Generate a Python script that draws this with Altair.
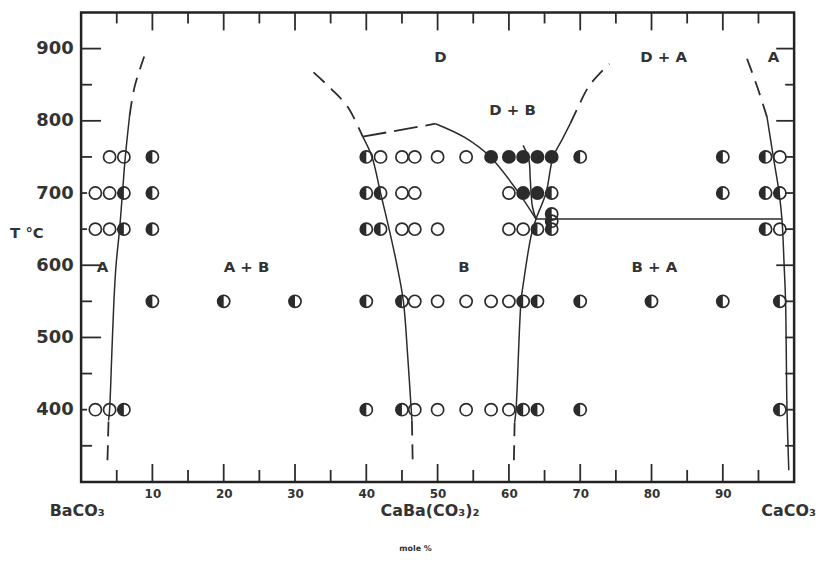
import altair as alt
import pandas as pd

# ---------------- data ----------------
# experimental points: mole % CaCO3, temperature, kind (o=open, h=half, f=filled)
row750_x = [4, 6, 10, 40, 42, 45, 46.8, 50, 54, 57.5, 60, 62, 64, 66, 70, 90, 96, 98]
row750_k = ["o", "o", "h", "h", "o", "o", "o", "o", "o", "f", "f", "f", "f", "f", "h", "h", "h", "o"]
row700_x = [2, 4, 6, 10, 40, 42, 45, 46.8, 60, 62, 64, 66, 90, 96, 98]
row700_k = ["o", "o", "h", "h", "h", "h", "o", "o", "o", "f", "f", "h", "h", "h", "h"]
row650_x = [2, 4, 6, 10, 40, 42, 45, 46.8, 50, 60, 62, 64, 66, 96, 98]
row650_k = ["o", "o", "h", "h", "h", "h", "o", "o", "o", "o", "o", "h", "h", "h", "o"]
extra_x = [66, 66]
extra_T = [671, 661]
extra_k = ["h", "h"]
row550_x = [10, 20, 30, 40, 45, 46.8, 50, 54, 57.5, 60, 62, 64, 70, 80, 90, 98]
row550_k = ["h", "h", "h", "h", "h", "o", "o", "o", "o", "o", "h", "h", "h", "h", "h", "h"]
row400_x = [2, 4, 6, 40, 45, 46.8, 50, 54, 57.5, 60, 62, 64, 70, 98]
row400_k = ["o", "o", "h", "h", "h", "o", "o", "o", "o", "o", "h", "h", "h", "h"]

# phase boundaries: (x, T) lists
bound_BaCO3_dash_low = [(3.7, 330), (3.85, 385)]
bound_BaCO3_solid = [(3.85, 385), (4.0, 400), (4.3, 475), (4.6, 550), (4.9, 600), (5.4, 650), (5.8, 700), (6.2, 750), (6.8, 807)]
bound_BaCO3_dash_high = [(6.8, 807), (7.5, 847), (8.85, 889)]

bound_B_left_dash_high = [(32.6, 867), (35.1, 844), (37.4, 819), (39.5, 778)]
bound_B_left_solid = [(39.5, 778), (40.8, 750), (42.0, 700), (43.2, 650), (44.3, 600), (45.2, 550), (45.8, 475), (46.3, 400), (46.4, 385)]
bound_B_left_dash_low = [(46.4, 385), (46.5, 330)]

bound_DB_dash = [(39.5, 778), (49.7, 796)]
bound_DB_solid = [(49.7, 796), (53.8, 777), (57.4, 750), (61.1, 704), (63.8, 664)]

bound_inner = [(62.0, 766), (62.8, 746), (63.0, 718), (63.3, 681), (63.8, 664)]

eutectoid = [(63.8, 664), (98.3, 664)]

bound_B_right_dash_low = [(60.7, 330), (60.8, 382)]
bound_B_right_solid = [(60.8, 382), (61.0, 400), (61.7, 550), (62.1, 580), (63.1, 640), (63.8, 664), (65.2, 700), (66.2, 750), (67.4, 773), (68.6, 796)]
bound_B_right_dash_high = [(68.6, 796), (69.7, 819), (71.3, 849), (74.1, 879)]

bound_CaCO3_dash = [(93.4, 886), (94.9, 845), (96.2, 805)]
bound_CaCO3_solid = [(96.2, 805), (97.1, 749), (97.9, 700), (98.3, 663), (98.6, 600), (98.8, 550), (99.0, 400), (99.25, 316)]

# region labels
region_labels = ["A", "A + B", "D", "D + B", "D + A", "A", "B", "B + A"]
region_x = [3.0, 23.2, 50.4, 60.5, 81.7, 97.1, 53.7, 80.4]
region_T = [597, 597, 888, 815, 888, 888, 597, 597]

# compound labels under the axis
compound_labels = ["BaCO\u2083", "CaBa(CO\u2083)\u2082", "CaCO\u2083"]
compound_x = [-4.4, 42.0, 95.4]
compound_T = [259, 259, 259]

x_tick_labels = [10, 20, 30, 40, 50, 60, 70, 80, 90]
y_tick_labels = [400, 500, 600, 700, 800, 900]

x_major_ticks = [10, 20, 30, 40, 50, 60, 70, 80, 90]
x_minor_ticks = [5, 15, 25, 35, 45, 55, 65, 75, 85, 95]
left_long_ticks = [500, 600, 800, 900]
left_mid_ticks = [350, 450, 550, 750, 850]
left_short_ticks = [400, 650, 700]
right_long_ticks = [600, 800, 900]
right_short_ticks = [350, 400, 450, 500, 550, 650, 700, 750, 850]

# ---------------- build tables ----------------
pts = []
for xs, ks, T in [(row750_x, row750_k, 750), (row700_x, row700_k, 700),
                  (row650_x, row650_k, 650), (row550_x, row550_k, 550),
                  (row400_x, row400_k, 400)]:
    for x, k in zip(xs, ks):
        pts.append({"x": x, "T": T, "k": k})
for x, T, k in zip(extra_x, extra_T, extra_k):
    pts.append({"x": x, "T": T, "k": k})
pts = pd.DataFrame(pts)

def seg_table(segs):
    rows = []
    for s, seg in enumerate(segs):
        for i, (x, T) in enumerate(seg):
            rows.append({"seg": s, "i": i, "x": x, "T": T})
    return pd.DataFrame(rows)

solid_df = seg_table([bound_BaCO3_solid, bound_B_left_solid, bound_DB_solid,
                      bound_inner, eutectoid, bound_B_right_solid, bound_CaCO3_solid])
dash_df = seg_table([bound_BaCO3_dash_low, bound_BaCO3_dash_high, bound_B_left_dash_high,
                     bound_B_left_dash_low, bound_B_right_dash_low, bound_B_right_dash_high,
                     bound_CaCO3_dash])
dash_db_df = seg_table([bound_DB_dash])

regions = pd.DataFrame({"label": region_labels, "x": region_x, "T": region_T})
compounds = pd.DataFrame({"label": compound_labels, "x": compound_x, "T": compound_T})
other_text = pd.DataFrame({"label": ["T \u00b0C", "mole %"], "x": [-7.6, 46.9], "T": [645, 207],
                           "size": ["big", "small"]})

W, H = 717, 472
INK = "#2b2b2b"
FONT = "DejaVu Sans"

xscale = alt.Scale(domain=[0, 100], nice=False, zero=False)
yscale = alt.Scale(domain=[300, 950], nice=False, zero=False)
xaxis = alt.Axis(values=x_tick_labels, ticks=False, tickSize=0, domain=False, grid=False,
                 labelFontSize=12, labelFontWeight="bold", labelFont=FONT, labelColor="#333",
                 labelPadding=7, title=None)
yaxis = alt.Axis(values=y_tick_labels, ticks=False, tickSize=0, domain=False, grid=False,
                 labelFontSize=18, labelFontWeight="bold", labelFont=FONT, labelColor="#333",
                 labelPadding=8, title=None)

def X(f="x"):
    return alt.X(f"{f}:Q", scale=xscale, axis=xaxis)

def Y(f="T"):
    return alt.Y(f"{f}:Q", scale=yscale, axis=yaxis)

CIRCLE = "M-1,0A1,1,0,1,0,1,0A1,1,0,1,0,-1,0Z"
LEFT_HALF = "M0,-1A1,1,0,0,0,0,1Z"
SZ = 150

lines_solid = alt.Chart(solid_df).mark_line(color=INK, strokeWidth=1.5, interpolate="catmull-rom").encode(
    x=X(), y=Y(), detail="seg:N", order="i:Q")
lines_dash = alt.Chart(dash_df).mark_line(color=INK, strokeWidth=1.8, strokeDash=[15, 9],
                                          interpolate="catmull-rom").encode(
    x=X(), y=Y(), detail="seg:N", order="i:Q")
lines_dash_db = alt.Chart(dash_db_df).mark_line(color=INK, strokeWidth=1.8, strokeDash=[24, 8]).encode(
    x=X(), y=Y(), detail="seg:N", order="i:Q")

open_pts = alt.Chart(pts).mark_point(shape=CIRCLE, filled=False, stroke=INK, strokeWidth=1.7,
                                     size=SZ, opacity=1).encode(x=X(), y=Y())
half_pts = alt.Chart(pts).transform_filter(alt.datum.k == "h").mark_point(
    shape=LEFT_HALF, filled=True, fill=INK, strokeWidth=0, size=SZ, opacity=1).encode(x=X(), y=Y())
full_pts = alt.Chart(pts).transform_filter(alt.datum.k == "f").mark_point(
    shape=CIRCLE, filled=True, fill=INK, strokeWidth=0, size=SZ, opacity=1).encode(x=X(), y=Y())

region_text = alt.Chart(regions).mark_text(font=FONT, fontSize=15, fontWeight="bold", color="#333",
                                           baseline="middle", align="center").encode(
    x=X(), y=Y(), text="label:N")
compound_text = alt.Chart(compounds).mark_text(font=FONT, fontSize=16, fontWeight="bold", color="#333",
                                               baseline="middle", align="left").encode(
    x=X(), y=Y(), text="label:N")
t_label = alt.Chart(other_text).transform_filter(alt.datum.size == "big").mark_text(
    font=FONT, fontSize=15, fontWeight="bold", color="#333", baseline="middle", align="center").encode(
    x=X(), y=Y(), text="label:N")
mole_label = alt.Chart(other_text).transform_filter(alt.datum.size == "small").mark_text(
    font=FONT, fontSize=8, fontWeight="bold", color="#333", baseline="middle", align="center").encode(
    x=X(), y=Y(), text="label:N")

def vticks(vals, top, length):
    df = pd.DataFrame({"v": vals})
    if top:
        return alt.Chart(df).mark_rule(color=INK, strokeWidth=1.8).encode(
            x=X("v"), y=alt.value(0), y2=alt.value(length))
    return alt.Chart(df).mark_rule(color=INK, strokeWidth=1.8).encode(
        x=X("v"), y=alt.value(H), y2=alt.value(H - length))

def hticks(vals, left, length):
    df = pd.DataFrame({"v": vals})
    if left:
        return alt.Chart(df).mark_rule(color=INK, strokeWidth=1.8).encode(
            y=Y("v"), x=alt.value(0), x2=alt.value(length))
    return alt.Chart(df).mark_rule(color=INK, strokeWidth=1.8).encode(
        y=Y("v"), x=alt.value(W), x2=alt.value(W - length))

ticks = [
    vticks(x_major_ticks, True, 18), vticks(x_minor_ticks, True, 11),
    vticks(x_major_ticks, False, 18), vticks(x_minor_ticks, False, 12),
    hticks(left_long_ticks, True, 20), hticks(left_mid_ticks, True, 11), hticks(left_short_ticks, True, 6),
    hticks(right_long_ticks, False, 18), hticks(right_short_ticks, False, 9),
]

chart = alt.layer(
    lines_solid, lines_dash, lines_dash_db, *ticks,
    open_pts, half_pts, full_pts,
    region_text, compound_text, t_label, mole_label,
).properties(
    width=W, height=H,
    autosize="none",
    padding={"left": 73.5, "top": 3, "right": 22, "bottom": 72},
    background="white",
).configure_view(stroke="#222", strokeWidth=2.5)

chart.save("out.html", embed_options={"renderer": "svg", "actions": False})
